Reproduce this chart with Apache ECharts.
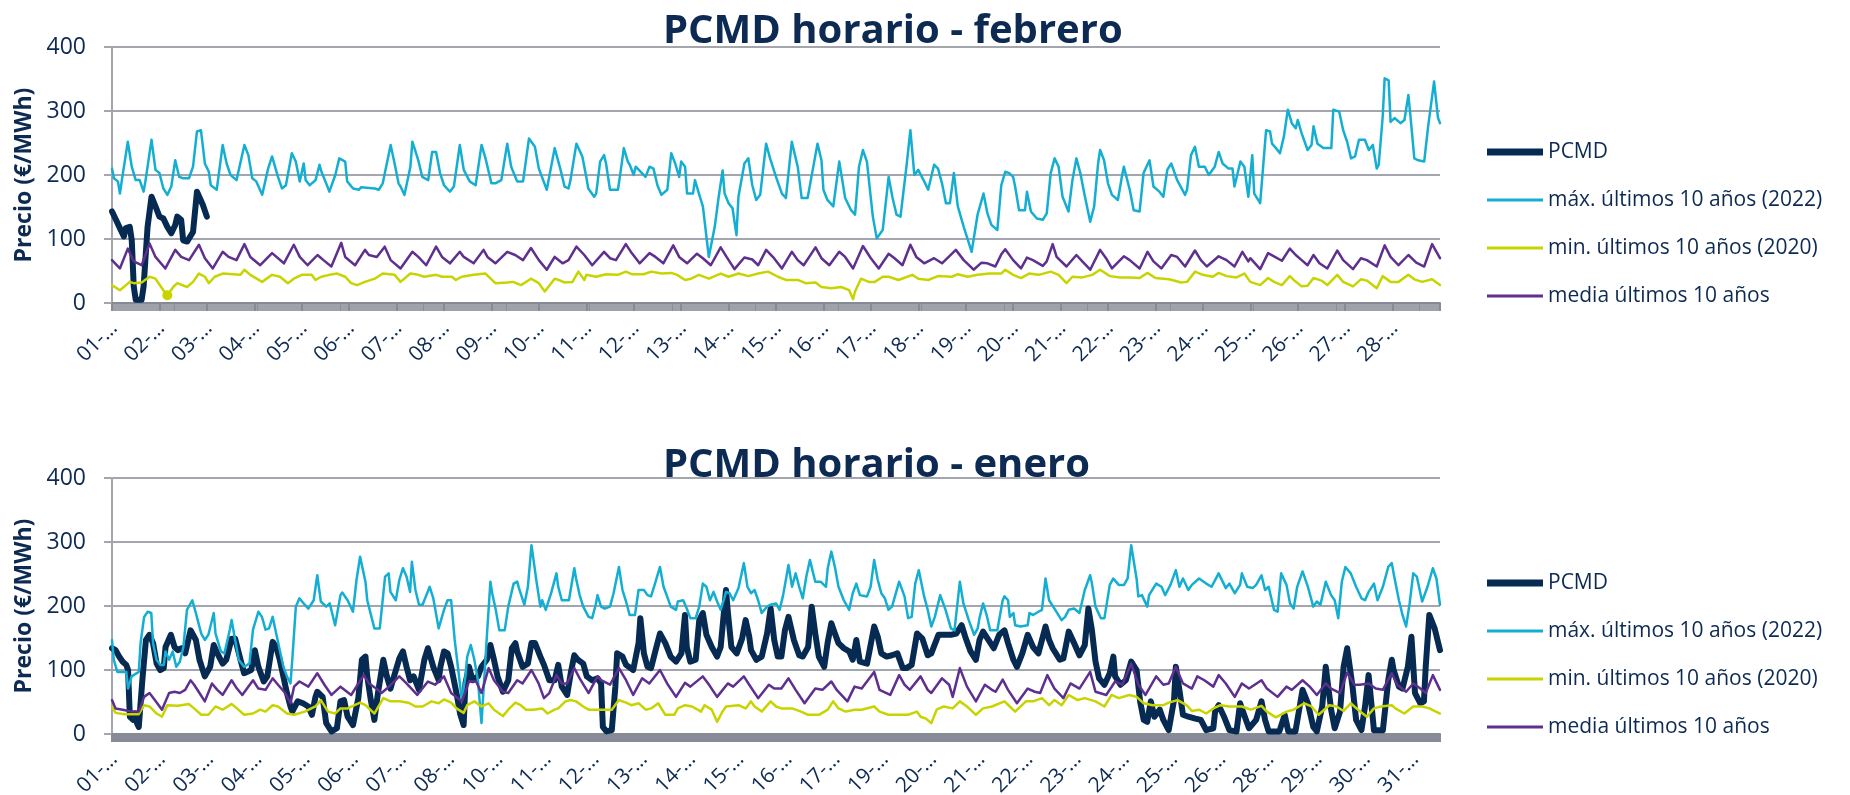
<!DOCTYPE html>
<html><head><meta charset="utf-8">
<script src="https://cdn.jsdelivr.net/npm/echarts@6/dist/echarts.min.js"></script>
<style>html,body{margin:0;padding:0;background:#fff}#c{width:1850px;height:795px}</style>
</head><body><div id="c"></div>
<script>
const febDays = ['01','02','03','04','05','06','07','08','09','10','11','12','13','14','15','16','17','18','19','20','21','22','23','24','25','26','27','28'];
const janDays = ['01','02','03','04','05','06','07','08','09','10','11','12','13','14','15','16','17','18','19','20','21','22','23','24','25','26','27','28','29','30','31'];
const seriesNames = ['PCMD','máx. últimos 10 años (2022)','min. últimos 10 años (2020)','media últimos 10 años'];
const titles = ['PCMD horario - febrero','PCMD horario - enero'];
const yName = 'Precio (€/MWh)';
const febPCMD = [[0,143],[2,130],[4,117],[6,104],[7,117],[9,119],[10,98],[11,26],[12,5],[15,5],[16,26],[18,119],[20,166],[22,151],[24,135],[26,132],[28,119],[30,109],[32,122],[33,135],[35,130],[36,98],[38,96],[41,111],[43,174],[44,174],[46,153],[48,135]];
const febMax = [[0,210],[1,195],[3,190],[4,171],[5,192],[8,252],[10,213],[12,192],[14,192],[16,174],[17,192],[20,255],[21,252],[22,208],[24,203],[26,179],[28,169],[30,182],[32,223],[33,226],[34,197],[36,195],[39,195],[41,213],[43,268],[45,270],[47,218],[49,205],[50,184],[53,177],[56,247],[58,218],[60,200],[63,192],[67,247],[69,231],[71,195],[73,190],[76,169],[77,171],[79,210],[81,229],[82,226],[84,197],[86,179],[88,184],[91,234],[93,221],[95,190],[97,218],[98,192],[100,184],[103,192],[105,216],[106,205],[108,190],[110,174],[113,200],[115,226],[118,221],[119,190],[122,179],[125,177],[126,181],[133,179],[135,177],[137,187],[141,247],[143,218],[145,187],[146,182],[148,169],[151,213],[152,252],[155,223],[157,197],[160,192],[162,236],[164,236],[166,203],[168,184],[171,174],[173,182],[176,247],[178,208],[181,190],[184,184],[187,247],[189,226],[192,187],[194,187],[197,192],[200,249],[202,213],[205,190],[208,190],[211,257],[214,244],[216,210],[220,177],[221,179],[224,242],[227,208],[229,182],[231,179],[232,192],[235,249],[238,229],[240,197],[241,179],[244,166],[245,171],[247,221],[249,231],[250,218],[252,177],[256,177],[257,197],[259,242],[261,221],[262,216],[264,200],[265,213],[266,213],[270,197],[272,213],[274,210],[276,184],[278,169],[281,177],[283,234],[285,218],[287,197],[288,221],[290,213],[291,171],[294,171],[295,192],[297,171],[299,151],[300,148],[302,72],[305,119],[307,166],[309,207],[310,171],[312,156],[314,148],[316,106],[317,166],[320,218],[322,226],[324,184],[326,161],[328,169],[331,249],[333,226],[336,197],[339,171],[341,164],[344,252],[347,213],[349,164],[352,164],[357,249],[359,223],[360,177],[362,161],[365,151],[368,221],[369,218],[371,164],[374,145],[376,138],[378,213],[380,239],[382,221],[385,135],[387,101],[390,114],[393,197],[395,164],[397,138],[399,135],[400,161],[402,213],[404,270],[406,200],[408,208],[411,190],[413,177],[416,216],[418,210],[420,187],[422,156],[424,156],[426,203],[428,151],[431,119],[435,80],[438,138],[441,171],[443,140],[445,122],[448,114],[450,184],[452,205],[454,203],[456,197],[457,182],[459,145],[462,145],[463,174],[465,143],[468,132],[471,130],[473,140],[475,203],[477,226],[479,213],[481,166],[484,143],[486,192],[488,226],[490,203],[492,171],[495,127],[497,151],[499,218],[500,239],[502,223],[504,187],[506,169],[509,161],[511,197],[512,213],[515,177],[517,145],[520,143],[522,203],[525,223],[527,182],[530,174],[532,166],[534,208],[536,218],[539,192],[543,169],[544,177],[546,231],[548,244],[550,213],[553,213],[555,200],[558,213],[560,236],[562,218],[565,210],[567,210],[568,182],[571,221],[573,213],[575,166],[577,231],[578,171],[581,156],[584,270],[586,268],[587,249],[589,242],[591,234],[593,260],[595,302],[597,281],[599,273],[600,286],[602,265],[605,239],[607,247],[608,276],[610,249],[613,242],[617,242],[618,302],[621,299],[623,270],[625,252],[627,226],[629,229],[631,255],[634,255],[636,239],[638,247],[640,210],[641,216],[643,291],[644,351],[646,348],[647,283],[649,289],[652,281],[654,286],[656,325],[657,294],[659,226],[661,223],[664,221],[666,276],[669,346],[671,289],[672,281]];
const febMin = [[0,28],[4,20],[9,33],[11,31],[15,32],[19,41],[22,38],[26,20],[28,12],[31,25],[33,31],[38,25],[41,33],[44,46],[47,41],[49,31],[52,41],[56,46],[65,44],[67,52],[70,44],[76,33],[81,44],[85,41],[89,31],[92,38],[96,44],[101,44],[103,36],[106,41],[110,44],[114,46],[118,41],[121,31],[124,28],[128,33],[133,38],[137,46],[143,44],[146,33],[151,46],[155,44],[158,41],[164,44],[167,41],[172,41],[174,36],[177,41],[183,44],[189,46],[194,31],[200,32],[203,33],[207,28],[212,38],[216,31],[219,18],[224,38],[226,36],[229,32],[233,33],[236,49],[239,36],[240,44],[245,41],[250,45],[256,44],[260,49],[263,45],[269,45],[273,49],[278,46],[283,47],[286,44],[290,36],[293,38],[297,44],[302,38],[308,46],[312,41],[317,46],[322,42],[327,46],[332,49],[337,41],[341,36],[347,36],[351,31],[356,32],[359,25],[364,23],[369,25],[373,20],[375,6],[376,18],[379,38],[383,33],[386,33],[390,41],[393,41],[398,36],[405,44],[408,38],[413,36],[418,42],[425,41],[428,45],[433,41],[438,44],[444,46],[450,46],[452,52],[456,44],[460,39],[464,46],[469,44],[475,49],[479,44],[483,31],[486,41],[491,40],[496,44],[500,52],[505,42],[510,40],[515,40],[520,39],[524,47],[528,39],[535,37],[541,32],[544,33],[548,49],[552,44],[557,41],[560,47],[564,42],[569,40],[573,46],[576,33],[581,28],[585,39],[588,33],[592,28],[596,42],[598,36],[602,26],[605,27],[608,39],[612,35],[615,28],[620,44],[623,33],[628,26],[632,37],[635,35],[640,23],[643,42],[647,33],[651,33],[656,44],[659,37],[663,33],[668,37],[672,28]];
const febMinMarkedHour = 28;
const febMedia = [[0,67],[4,54],[8,85],[11,65],[15,59],[19,93],[22,72],[27,54],[32,83],[35,72],[39,67],[44,91],[47,70],[51,54],[56,80],[59,72],[63,67],[67,92],[70,72],[75,59],[81,78],[82,75],[87,62],[92,91],[95,72],[99,59],[104,75],[107,67],[111,57],[116,94],[118,72],[123,59],[128,83],[130,75],[134,72],[138,88],[141,67],[146,54],[152,80],[155,72],[159,59],[164,88],[167,72],[171,62],[176,80],[178,72],[183,62],[188,83],[190,72],[194,62],[200,80],[204,75],[208,67],[212,86],[216,67],[220,52],[224,72],[228,62],[231,67],[235,88],[239,75],[243,59],[249,80],[252,70],[255,67],[260,92],[263,78],[267,62],[272,78],[275,72],[279,62],[284,90],[287,72],[291,62],[296,77],[299,70],[303,59],[308,87],[311,72],[315,53],[320,71],[324,68],[327,59],[331,83],[335,70],[339,54],[344,80],[347,67],[350,59],[356,87],[359,70],[363,59],[368,80],[371,72],[375,54],[380,89],[384,70],[388,54],[393,77],[396,70],[400,59],[404,91],[407,72],[411,62],[416,70],[420,62],[427,83],[431,67],[436,52],[440,63],[443,62],[447,57],[450,76],[452,84],[456,67],[460,54],[463,71],[466,67],[471,58],[473,65],[476,92],[478,72],[483,57],[488,75],[491,65],[495,52],[500,83],[503,70],[506,54],[512,73],[515,67],[520,54],[524,80],[527,65],[531,54],[536,75],[539,72],[543,57],[548,82],[551,67],[554,57],[560,73],[564,67],[568,57],[572,80],[575,65],[576,70],[581,53],[585,78],[588,73],[592,66],[596,85],[599,75],[602,67],[605,59],[608,75],[611,62],[615,54],[620,82],[623,67],[628,53],[632,70],[635,67],[640,57],[644,90],[647,72],[651,59],[656,75],[660,63],[664,57],[668,92],[672,70]];
const janPCMD = [[0,134],[2,131],[4,121],[6,113],[8,108],[9,100],[10,27],[12,22],[13,32],[14,17],[15,11],[17,84],[19,147],[21,155],[23,142],[25,110],[27,100],[29,103],[30,136],[33,155],[35,136],[37,131],[39,134],[41,126],[44,162],[47,147],[49,116],[52,90],[55,105],[57,139],[59,126],[62,110],[64,116],[67,149],[69,149],[72,116],[74,95],[78,100],[80,131],[82,105],[85,82],[87,90],[90,144],[92,136],[94,116],[96,90],[98,64],[100,43],[101,35],[104,51],[107,48],[110,43],[112,30],[114,58],[115,66],[118,58],[120,17],[123,4],[126,9],[128,51],[130,53],[132,27],[135,14],[138,56],[140,116],[142,121],[143,90],[145,53],[147,22],[149,64],[152,116],[154,90],[156,71],[158,90],[161,118],[163,129],[165,105],[167,84],[169,90],[172,69],[175,116],[177,134],[180,105],[183,84],[184,105],[186,129],[188,126],[190,105],[193,64],[195,32],[197,14],[198,79],[200,105],[202,84],[205,90],[207,105],[210,116],[212,139],[214,116],[216,90],[219,66],[222,84],[224,134],[226,142],[227,129],[230,105],[233,110],[235,142],[237,142],[240,121],[242,108],[245,84],[248,84],[250,108],[252,74],[255,61],[257,95],[259,123],[261,116],[264,110],[266,90],[269,84],[272,87],[274,79],[275,11],[277,4],[280,6],[282,74],[283,126],[286,121],[288,108],[292,100],[295,142],[296,181],[298,126],[300,105],[302,103],[305,136],[307,157],[310,142],[313,121],[316,113],[319,126],[321,186],[322,136],[324,113],[327,116],[329,178],[331,189],[333,155],[336,136],[339,121],[341,136],[344,225],[345,191],[347,136],[350,126],[353,149],[355,178],[357,152],[358,131],[361,116],[364,121],[367,157],[369,196],[371,147],[373,121],[375,121],[377,162],[379,183],[382,147],[385,123],[387,121],[390,136],[392,199],[394,157],[396,121],[399,105],[401,144],[403,173],[405,157],[407,142],[410,134],[413,129],[415,116],[417,147],[419,113],[423,110],[427,168],[429,152],[431,126],[434,121],[437,123],[440,126],[443,103],[445,103],[448,108],[451,157],[454,149],[457,123],[459,126],[463,155],[470,155],[473,157],[476,170],[478,152],[481,129],[484,116],[486,147],[488,160],[491,147],[494,134],[497,155],[500,162],[502,142],[505,116],[507,105],[510,126],[513,155],[516,136],[519,126],[521,147],[523,168],[525,147],[527,134],[531,116],[533,118],[536,160],[539,142],[542,123],[545,139],[547,196],[549,162],[551,113],[553,87],[556,77],[559,95],[561,121],[562,90],[565,77],[568,84],[571,113],[574,100],[576,51],[578,22],[580,19],[582,51],[584,27],[587,38],[589,22],[592,6],[595,53],[596,105],[598,69],[600,30],[603,27],[607,24],[610,22],[613,6],[617,9],[618,35],[620,45],[623,27],[626,6],[630,4],[632,48],[634,32],[637,9],[641,22],[644,51],[646,22],[648,4],[654,4],[657,30],[659,4],[663,4],[667,69],[670,48],[673,11],[675,4],[678,43],[680,105],[683,38],[685,9],[688,35],[690,105],[692,134],[695,74],[697,22],[700,6],[702,43],[704,92],[707,6],[712,6],[715,84],[717,116],[718,100],[721,74],[723,71],[726,105],[728,152],[730,64],[733,48],[735,51],[736,105],[738,186],[741,165],[744,131]];
const janMax = [[0,147],[1,116],[3,97],[8,97],[9,71],[11,90],[15,97],[16,142],[18,183],[20,191],[22,189],[23,142],[25,116],[27,108],[29,108],[30,129],[32,116],[34,129],[36,105],[38,113],[40,136],[42,194],[45,209],[47,189],[48,178],[50,157],[52,147],[54,155],[57,189],[58,157],[61,129],[63,126],[66,163],[67,178],[69,147],[71,116],[74,105],[77,110],[79,163],[82,191],[84,183],[86,163],[88,165],[90,183],[92,157],[94,131],[96,105],[98,90],[100,79],[101,116],[103,199],[105,212],[108,202],[110,196],[113,209],[115,248],[117,207],[120,199],[122,204],[125,170],[128,217],[129,221],[132,209],[135,191],[137,241],[139,277],[142,238],[143,209],[147,165],[150,165],[153,246],[155,251],[156,222],[159,209],[161,241],[163,259],[165,246],[167,222],[168,269],[170,225],[172,202],[174,202],[178,230],[180,212],[183,165],[184,162],[186,194],[188,209],[190,209],[192,147],[194,100],[196,53],[198,90],[199,121],[201,139],[203,116],[205,84],[207,17],[210,152],[212,238],[213,220],[215,194],[217,162],[220,162],[222,199],[225,235],[227,238],[228,228],[231,202],[233,230],[235,295],[238,235],[240,199],[241,209],[243,194],[246,220],[249,251],[250,230],[252,209],[256,209],[259,259],[260,243],[262,217],[264,199],[267,183],[269,181],[271,202],[272,217],[274,199],[276,196],[279,199],[281,220],[284,261],[286,225],[288,207],[290,186],[293,186],[295,225],[298,225],[300,217],[302,215],[304,233],[307,261],[309,230],[311,215],[313,199],[316,194],[317,207],[320,209],[322,196],[324,181],[327,181],[329,199],[331,235],[333,230],[335,209],[337,222],[339,207],[341,194],[343,212],[344,222],[346,220],[348,209],[351,228],[354,267],[356,230],[358,220],[360,225],[362,209],[364,189],[367,199],[369,202],[372,204],[374,194],[376,217],[379,264],[381,230],[383,251],[385,230],[387,212],[389,246],[391,272],[394,238],[397,238],[400,230],[401,259],[403,285],[405,261],[407,230],[410,209],[413,194],[415,220],[417,235],[419,217],[423,215],[425,230],[427,272],[429,241],[431,220],[433,212],[435,194],[437,199],[441,238],[444,215],[446,181],[448,183],[450,235],[452,256],[455,215],[457,194],[459,168],[461,183],[464,217],[467,194],[470,165],[472,162],[475,238],[477,204],[480,178],[483,155],[485,165],[486,181],[488,204],[490,186],[492,162],[496,162],[499,209],[500,215],[502,209],[503,183],[505,189],[506,170],[509,168],[513,170],[514,189],[516,186],[519,191],[521,194],[523,243],[525,209],[528,196],[532,178],[534,183],[536,194],[539,196],[542,189],[545,225],[548,248],[549,235],[551,199],[554,181],[556,181],[559,233],[561,243],[564,233],[567,233],[569,243],[571,295],[574,243],[575,215],[577,217],[580,199],[581,217],[585,235],[588,230],[590,217],[593,233],[596,256],[598,230],[600,243],[603,225],[605,233],[609,243],[613,235],[616,230],[620,251],[624,228],[626,235],[629,220],[632,233],[633,251],[636,230],[639,228],[641,233],[644,248],[646,225],[648,230],[651,194],[653,191],[655,251],[658,233],[660,204],[662,196],[664,230],[667,254],[670,230],[673,199],[675,207],[677,202],[680,238],[683,217],[685,209],[687,181],[689,238],[691,261],[694,251],[697,230],[700,212],[702,209],[704,222],[707,235],[709,209],[712,230],[715,261],[717,267],[718,251],[721,209],[723,186],[725,168],[727,204],[729,251],[731,246],[734,207],[737,230],[740,259],[742,243],[744,202]];
const janMin = [[0,43],[2,33],[7,31],[15,31],[18,45],[21,43],[25,32],[28,27],[31,45],[37,44],[43,47],[46,40],[50,30],[54,30],[58,43],[62,38],[67,47],[70,40],[74,30],[79,32],[83,38],[86,35],[90,45],[93,43],[98,32],[102,30],[108,35],[114,43],[117,53],[121,35],[125,32],[128,40],[132,40],[139,49],[142,45],[147,32],[152,56],[156,51],[161,51],[166,49],[170,43],[174,43],[179,51],[183,48],[186,54],[190,49],[193,40],[197,33],[199,45],[203,51],[207,43],[211,48],[214,38],[219,28],[222,38],[226,49],[229,45],[232,38],[236,38],[241,40],[244,32],[248,38],[250,40],[254,51],[257,53],[260,51],[264,43],[267,38],[272,38],[280,38],[284,53],[288,49],[291,45],[295,48],[299,38],[302,40],[306,48],[310,30],[315,30],[317,40],[321,45],[325,43],[330,35],[332,45],[336,38],[339,19],[342,35],[344,43],[351,45],[355,40],[358,51],[360,43],[364,35],[369,51],[372,43],[375,40],[381,40],[386,35],[390,30],[396,30],[401,38],[404,51],[407,40],[411,35],[416,38],[420,38],[427,43],[430,35],[435,30],[446,30],[451,35],[453,27],[456,24],[459,17],[462,38],[466,43],[471,40],[475,51],[479,43],[484,30],[488,40],[493,43],[500,51],[503,43],[506,35],[512,51],[516,51],[521,56],[525,45],[528,53],[532,45],[536,61],[541,53],[545,56],[551,51],[556,43],[560,61],[564,56],[570,61],[574,58],[578,48],[583,45],[589,45],[592,49],[597,53],[602,45],[605,36],[609,38],[613,32],[617,40],[621,45],[626,43],[633,43],[638,38],[644,44],[647,35],[652,26],[658,35],[662,38],[668,48],[672,43],[676,30],[682,45],[686,43],[690,36],[694,48],[698,38],[703,27],[707,40],[711,43],[717,45],[719,40],[724,32],[729,43],[734,43],[738,40],[744,32]];
const janMedia = [[0,53],[2,40],[6,38],[11,35],[15,35],[18,58],[21,64],[24,53],[28,38],[32,64],[35,66],[38,64],[41,69],[44,84],[46,77],[49,64],[52,51],[56,79],[59,69],[62,61],[67,84],[70,71],[73,61],[79,84],[82,71],[86,69],[90,87],[93,77],[97,64],[100,48],[102,74],[105,82],[110,74],[115,95],[119,77],[123,61],[128,74],[134,61],[141,92],[144,79],[148,71],[151,64],[154,71],[157,79],[161,90],[165,79],[171,61],[177,82],[181,77],[186,90],[190,64],[196,51],[200,82],[204,82],[207,64],[211,103],[214,84],[219,66],[222,64],[227,84],[230,79],[235,100],[239,79],[242,56],[245,64],[249,92],[252,79],[255,79],[259,103],[262,87],[267,64],[272,90],[274,84],[279,77],[284,103],[288,84],[292,61],[297,87],[301,79],[307,100],[311,79],[316,58],[321,80],[324,74],[331,90],[334,79],[339,58],[345,79],[348,74],[354,90],[357,77],[362,56],[368,77],[371,71],[375,71],[379,87],[383,69],[388,48],[394,71],[398,69],[403,82],[406,69],[412,51],[416,74],[420,71],[427,97],[430,69],[436,61],[441,92],[444,77],[447,69],[453,90],[457,69],[459,64],[465,87],[469,77],[471,58],[475,103],[479,74],[484,51],[489,77],[493,69],[495,66],[499,85],[502,69],[507,48],[513,71],[517,66],[520,64],[524,92],[528,71],[533,56],[537,79],[542,71],[548,97],[551,66],[557,61],[562,82],[566,77],[571,110],[575,77],[579,61],[585,90],[589,77],[592,79],[596,105],[600,79],[605,71],[608,90],[612,84],[617,74],[620,92],[624,79],[629,58],[633,79],[637,71],[644,84],[647,71],[653,58],[658,74],[661,69],[667,84],[671,74],[675,61],[680,79],[683,71],[688,64],[692,96],[696,77],[699,77],[704,79],[708,71],[712,69],[717,95],[720,77],[725,66],[729,79],[733,71],[736,64],[740,92],[744,69]];

const NAVY = '#0c2a52';
const C_PCMD = '#062a52', C_MAX = '#14aed3', C_MIN = '#c8d400', C_MED = '#5e2f8f';
const GRIDC = '#a4a6ae', BAND = '#878b95';
const FONT = 'Open Sans';
const colors = [C_PCMD, C_MAX, C_MIN, C_MED];
const widths = [6, 2.5, 2.5, 2.5];

function mkX(gi, max, step, tickW) {
  return {
    type: 'value', gridIndex: gi, min: 0, max: max, interval: step,
    axisLine: { show: true, onZero: false, lineStyle: { color: BAND, width: 2 } },
    axisTick: { show: true, length: 8, lineStyle: { color: BAND, width: 2 } },
    minorTick: { show: true, splitNumber: step, length: 8, lineStyle: { color: BAND, width: tickW } },
    splitLine: { show: false }, minorSplitLine: { show: false },
    axisLabel: { show: false }
  };
}
function mkY(gi) {
  return {
    type: 'value', gridIndex: gi, min: 0, max: 400, interval: 100,
    name: yName, nameLocation: 'middle', nameGap: 74,
    nameTextStyle: { fontSize: 23, fontWeight: 'bold', color: NAVY, fontFamily: FONT },
    axisLine: { show: true, lineStyle: { color: GRIDC, width: 2 } },
    axisTick: { show: true, length: 8, lineStyle: { color: GRIDC, width: 2 } },
    axisLabel: { margin: 26, fontSize: 23, color: NAVY, fontFamily: FONT },
    splitLine: { show: true, lineStyle: { color: GRIDC, width: 2 } }
  };
}
function mkSeries(idx, data, gi) {
  return {
    name: seriesNames[idx], type: 'line', xAxisIndex: gi, yAxisIndex: gi,
    data: data, symbol: 'none', showSymbol: true, smooth: false,
    color: colors[idx],
    itemStyle: { color: colors[idx] },
    lineStyle: { color: colors[idx], width: widths[idx], join: 'round', cap: 'round' },
    emphasis: { disabled: true }, z: 2 + idx
  };
}
function mkLegend(top) {
  return {
    orient: 'vertical', left: 1482, top: top, itemWidth: 56, itemHeight: 14, itemGap: 24,
    selectedMode: false,
    textStyle: { fontSize: 21, color: NAVY, fontFamily: FONT, lineHeight: 24 },
    data: [
      { name: seriesNames[0], icon: 'path://M0,0H56V7H0Z' },
      { name: seriesNames[1], icon: 'path://M0,0H56V3H0Z' },
      { name: seriesNames[2], icon: 'path://M0,0H56V3H0Z' },
      { name: seriesNames[3], icon: 'path://M0,0H56V3H0Z' }
    ]
  };
}
const febMinData = febMin.map(p => p[0] === febMinMarkedHour
  ? { value: p, symbol: 'circle', symbolSize: 10, itemStyle: { color: C_MIN } } : p);
const titleStyle = { fontSize: 40, fontWeight: 'bold', color: NAVY, fontFamily: FONT, lineHeight: 40 };
const option = {
  animation: false,
  backgroundColor: '#ffffff',
  textStyle: { fontFamily: FONT },
  title: [
    { text: titles[0], left: 663, top: 12, padding: 0, textStyle: titleStyle },
    { text: titles[1], left: 663, top: 446, padding: 0, textStyle: titleStyle }
  ],
  legend: [mkLegend(135), mkLegend(566)],
  grid: [
    { left: 112, top: 47, width: 1328, height: 256 },
    { left: 112, top: 478, width: 1328, height: 256 }
  ],
  xAxis: [mkX(0, 672, 24, 1.6), mkX(1, 744, 27, 2)],
  yAxis: [mkY(0), mkY(1)],
  series: [
    mkSeries(0, febPCMD, 0), mkSeries(1, febMax, 0), mkSeries(2, febMinData, 0), mkSeries(3, febMedia, 0),
    mkSeries(0, janPCMD, 1), mkSeries(1, janMax, 1), mkSeries(2, janMin, 1), mkSeries(3, janMedia, 1)
  ]
};
const chart = echarts.init(document.getElementById('c'), null, { renderer: 'canvas' });
chart.setOption(option);

// Day tick labels, rotated 45°, placed with the axes' own scales
const LABEL_MARGIN = 22;
const labelEls = [];
[[0, febDays, 24, 672], [1, janDays, 27, 744]].forEach(function (cfg) {
  const gi = cfg[0], days = cfg[1], step = cfg[2], max = cfg[3];
  const y0 = chart.convertToPixel({ yAxisIndex: gi }, 0);
  for (let v = 0; v < max; v += step) {
    const x = chart.convertToPixel({ xAxisIndex: gi }, v);
    labelEls.push({
      type: 'text', x: x + 2, y: y0 + LABEL_MARGIN, rotation: Math.PI / 4, silent: true,
      style: { text: days[Math.floor(v / 24)] + '-…', align: 'right', verticalAlign: 'middle',
               fontSize: 21, fontFamily: FONT, fill: NAVY }
    });
  }
});
chart.setOption({ graphic: { elements: labelEls } });
</script></body></html>
